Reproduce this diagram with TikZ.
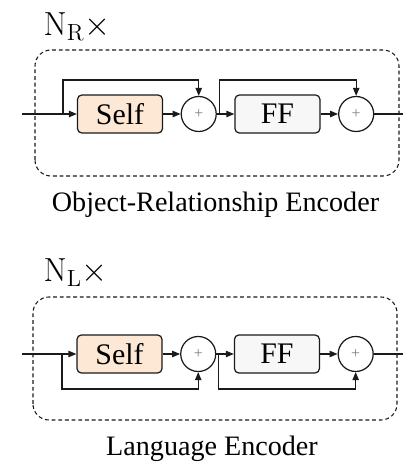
\documentclass[tikz,border=0pt]{standalone}
\usepackage{fix-cm}
\usepackage[no-math]{fontspec}
\setmainfont{Liberation Serif}
\usepackage{xcolor}
\usepackage{tikz}
\usetikzlibrary{positioning,arrows.meta}

\definecolor{selfcol}{HTML}{FCE8D5}
\definecolor{ffcol}{HTML}{F7F7F7}
\definecolor{linecol}{HTML}{1A1A1A}

\begin{document}
\begin{tikzpicture}[node distance = 0.35cm, line width=0.7pt, draw=linecol,
        >={Triangle[length=4.5pt,width=3.6pt]}]
            \tikzstyle{block} = [rectangle, rounded corners=2.5pt, draw=linecol, minimum width=1.7cm, minimum height=0.76cm, inner sep=0pt, font=\fontsize{17}{20}\selectfont]
            \tikzstyle{add} = [circle, draw=linecol, minimum size=0.7cm, inner sep=0pt, font=\fontsize{9}{10}\selectfont, text=gray]
            \tikzstyle{layer} = [dashed, dash pattern=on 2.2pt off 1.6pt, line width=0.6pt, rounded corners=0.32cm]
            \tikzstyle{caption} = [font=\fontsize{16}{19}\selectfont]
            \tikzstyle{repeat} = [anchor=west, inner sep=0pt, font=\fontsize{19}{23}\selectfont]
            \useasboundingbox (0,0) rectangle (8.3,9.4);

            % object-relationship encoder
            \node [repeat] (Rrep) at (0.86, 8.86) {$\mathrm{N}_\mathrm{R}{\times}$};
            \draw [layer] (0.7, 5.88) rectangle (7.98, 8.4);
            \node [block, fill=selfcol] (Rself) at (2.4, 7.12) {Self};
            \node [add, right = of Rself] (Radd1) {+};
            \node [block, fill=ffcol, right = of Radd1] (Rff) {FF};
            \node [add, right = of Rff] (Radd2) {+};
            \coordinate (Rin) at (0.44, 7.12);
            \coordinate (Rout) at (8.06, 7.12);
            \coordinate (Rsplit1) at (1.26, 7.12);
            \coordinate (Rsplit2) at (4.39, 7.12);
            \node [caption] (Rname) at (4.31, 5.3) {Object-Relationship Encoder};

            \draw (Rin) -- (Rsplit1);
            \draw [->] (Rsplit1) -- (Rself);
            \draw [->] (Rsplit1) -- ++(0, 0.68) -| (Radd1);
            \draw [->] (Rself) -- (Radd1);
            \draw (Radd1) -- (Rsplit2);
            \draw [->] (Rsplit2) -- (Rff);
            \draw [->] (Rsplit2) -- ++(0, 0.68) -| (Radd2);
            \draw [->] (Rff) -- (Radd2);
            \draw (Radd2) -- (Rout);

            % language encoder
            \node [repeat] (Lrep) at (0.86, 3.94) {$\mathrm{N}_\mathrm{L}{\times}$};
            \draw [layer] (0.66, 1.0) rectangle (7.94, 3.46);
            \node [block, fill=selfcol] (Lself) at (2.39, 2.32) {Self};
            \node [add, right = of Lself] (Ladd1) {+};
            \node [block, fill=ffcol, right = of Ladd1] (Lff) {FF};
            \node [add, right = of Lff] (Ladd2) {+};
            \coordinate (Lin) at (0.44, 2.32);
            \coordinate (Lout) at (8.06, 2.32);
            \coordinate (Lsplit1) at (1.24, 2.32);
            \coordinate (Lsplit2) at (4.37, 2.32);
            \node [caption] (Lname) at (4.24, 0.42) {Language Encoder};

            \draw (Lin) -- (Lsplit1);
            \draw [->] (Lsplit1) -- (Lself);
            \draw [->] (Lsplit1) -- ++(0, -0.7) -| (Ladd1);
            \draw [->] (Lself) -- (Ladd1);
            \draw (Ladd1) -- (Lsplit2);
            \draw [->] (Lsplit2) -- (Lff);
            \draw [->] (Lsplit2) -- ++(0, -0.7) -| (Ladd2);
            \draw [->] (Lff) -- (Ladd2);
            \draw (Ladd2) -- (Lout);
        \end{tikzpicture}
\end{document}
